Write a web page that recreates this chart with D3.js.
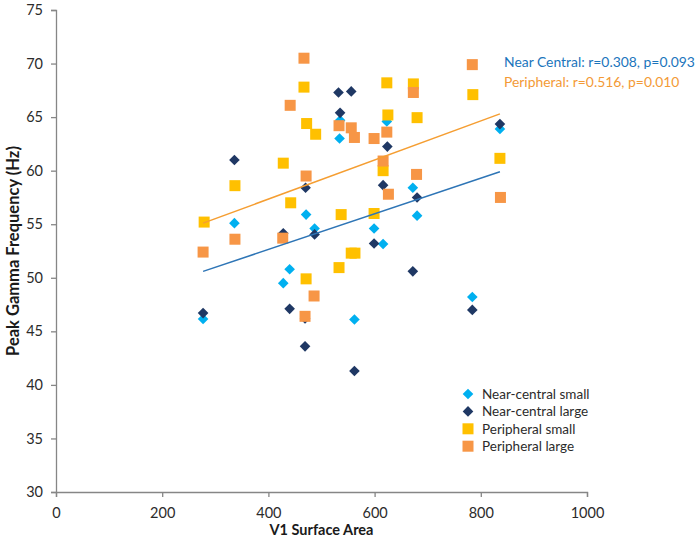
<!DOCTYPE html>
<html>
<head>
<meta charset="utf-8">
<script src="https://cdn.jsdelivr.net/npm/d3@7"></script>
<style>
  html, body { margin: 0; padding: 0; background: #fff; }
  svg { display: block; }
  text { font-family: Lato, "Open Sans", sans-serif; }
</style>
</head>
<body>
<svg id="chart" width="700" height="541"></svg>
<script>
// ---- data ----
const xTicks = [0, 200, 400, 600, 800, 1000];
const yTicks = [30, 35, 40, 45, 50, 55, 60, 65, 70, 75];

const nearSmallX = [277, 336, 428, 440, 471, 487, 534, 535, 562, 599, 616, 623, 672, 680, 784, 836];
const nearSmallY = [46.15, 55.1, 49.5, 50.8, 55.9, 54.6, 63.0, 64.7, 46.1, 54.6, 53.15, 64.6, 58.4, 55.8, 48.2, 63.9];

const nearLargeX = [277, 336, 428, 440, 470, 469, 469, 487, 532, 535, 556, 562, 599, 616, 624, 672, 680, 784, 836];
const nearLargeY = [46.7, 61.0, 54.15, 47.1, 58.4, 46.2, 43.6, 54.05, 67.3, 65.4, 67.4, 41.3, 53.2, 58.65, 62.25, 50.6, 57.5, 47.0, 64.35];

const periSmallX = [279, 337, 428, 442, 467, 472, 471, 489, 533, 537, 556, 563, 599, 616, 623, 625, 673, 680, 785, 836];
const periSmallY = [55.2, 58.6, 60.7, 57.0, 67.8, 64.4, 49.9, 63.4, 50.95, 55.9, 52.3, 52.3, 56.0, 60.0, 68.2, 65.2, 68.1, 64.95, 67.1, 61.15];

const periLargeX = [277, 337, 427, 441, 467, 471, 469, 486, 533, 556, 562, 599, 616, 623, 626, 673, 679, 784, 837];
const periLargeY = [52.4, 53.6, 53.7, 66.1, 70.5, 59.5, 46.4, 48.3, 64.2, 64.0, 63.1, 63.0, 60.9, 63.6, 57.8, 67.3, 59.65, 69.9, 57.5];

const nearTrendX = [277, 836];
const nearTrendY = [50.6, 59.9];
const periTrendX = [277, 836];
const periTrendY = [55.1, 65.3];

const seriesNames = ["Near-central small", "Near-central large", "Peripheral small", "Peripheral large"];
const statLabels = ["Near Central: r=0.308, p=0.093", "Peripheral: r=0.516, p=0.010"];

// ---- styling ----
const colors = ["#00B0F0", "#1F3864", "#FFC000", "#F79646"];
const shapes = ["diamond", "diamond", "square", "square"];
const trendColors = ["#2E75B6", "#F59E32"];
const statColors = ["#1B75BC", "#F39A36"];

const svg = d3.select("#chart");
const x = d3.scaleLinear().domain([0, 1000]).range([56, 587]);
const y = d3.scaleLinear().domain([30, 75]).range([492, 10]);
const axisColor = "#868686";
const textColor = "#2b2b2b";

// axes
const xAxis = svg.append("g").attr("transform", `translate(0,${y(30)})`)
  .call(d3.axisBottom(x).tickValues(xTicks).tickSize(5).tickPadding(8).tickFormat(d3.format("d")));
const yAxis = svg.append("g").attr("transform", `translate(${x(0)},0)`)
  .call(d3.axisLeft(y).tickValues(yTicks).tickSize(5).tickPadding(8).tickFormat(d3.format("d")));
[xAxis, yAxis].forEach(g => {
  g.select(".domain").attr("stroke", axisColor).attr("stroke-width", 1.3);
  g.selectAll(".tick line").attr("stroke", axisColor).attr("stroke-width", 1.3);
  g.selectAll(".tick text").attr("fill", textColor).style("font-size", "14.5px").style("font-family", "Lato, sans-serif");
});
xAxis.selectAll(".tick text").attr("dy", "0.9em");

// axis titles
svg.append("text").attr("x", (x(0) + x(1000)) / 2).attr("y", 535)
  .attr("text-anchor", "middle").attr("fill", "#1a1a1a")
  .style("font-size", "14.5px").style("font-weight", "bold").text("V1 Surface Area");
svg.append("text").attr("transform", `translate(19,${(y(30) + y(75)) / 2}) rotate(-90)`)
  .attr("text-anchor", "middle").attr("fill", "#1a1a1a")
  .style("font-size", "16.5px").style("font-weight", "bold").text("Peak Gamma Frequency (Hz)");

// markers
const diamond = d3.symbol().type(d3.symbolDiamond2).size(72);
function drawSeries(xs, ys, i) {
  const g = svg.append("g");
  const pts = xs.map((v, k) => [v, ys[k]]);
  if (shapes[i] === "diamond") {
    g.selectAll("path").data(pts).join("path")
      .attr("d", diamond)
      .attr("transform", d => `translate(${x(d[0])},${y(d[1])})`)
      .attr("fill", colors[i]);
  } else {
    const s = 11;
    g.selectAll("rect").data(pts).join("rect")
      .attr("x", d => x(d[0]) - s / 2).attr("y", d => y(d[1]) - s / 2)
      .attr("width", s).attr("height", s)
      .attr("fill", colors[i]);
  }
}
drawSeries(nearSmallX, nearSmallY, 0);
drawSeries(nearLargeX, nearLargeY, 1);
drawSeries(periSmallX, periSmallY, 2);
drawSeries(periLargeX, periLargeY, 3);

// trend lines
const line = d3.line().x(d => x(d[0])).y(d => y(d[1]));
[[nearTrendX, nearTrendY], [periTrendX, periTrendY]].forEach(([xs, ys], i) => {
  svg.append("path").datum(xs.map((v, k) => [v, ys[k]]))
    .attr("d", line).attr("fill", "none")
    .attr("stroke", trendColors[i]).attr("stroke-width", 1.5);
});

// stat annotations
statLabels.forEach((t, i) => {
  svg.append("text").attr("x", 504).attr("y", 67 + i * 19.5)
    .attr("fill", statColors[i]).style("font-size", "13.9px").text(t);
});

// legend
const legend = svg.append("g");
seriesNames.forEach((name, i) => {
  const cy = 394 + i * 17.4;
  if (shapes[i] === "diamond") {
    legend.append("path").attr("d", diamond).attr("transform", `translate(468,${cy})`).attr("fill", colors[i]);
  } else {
    legend.append("rect").attr("x", 468 - 5.5).attr("y", cy - 5.5).attr("width", 11).attr("height", 11).attr("fill", colors[i]);
  }
  legend.append("text").attr("x", 482).attr("y", cy).attr("dy", "0.35em")
    .attr("fill", textColor).style("font-size", "13.5px").text(name);
});
</script>
</body>
</html>
